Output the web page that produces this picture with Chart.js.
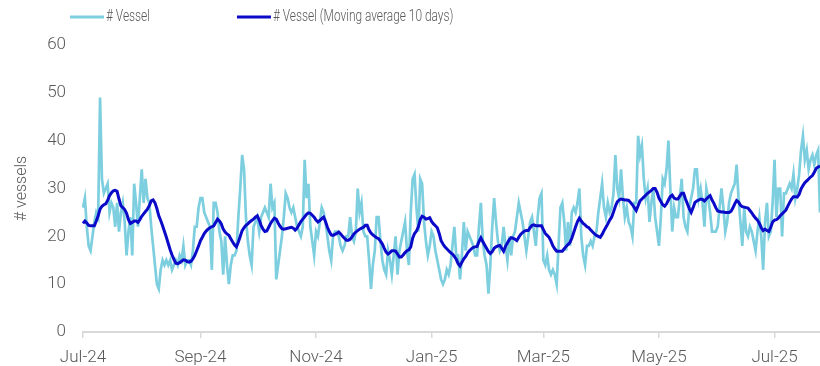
<!DOCTYPE html>
<html>
<head>
<meta charset="utf-8">
<script src="https://cdn.jsdelivr.net/npm/chart.js@4.4.1/dist/chart.umd.min.js"></script>
<style>
  html, body { margin: 0; padding: 0; background: #fff; }
</style>
</head>
<body>
<canvas id="chart" width="820" height="366"></canvas>
<script>

// daily series, starting 1 Jul 2024
var startDate = '2024-07-01';

var vessels = [
    26,28,22,18,17,20,23,25,24,49,32,29,30,31,25,27,26,22,27,21,
    25,27,23,16,21,24,16,31,27,22,28,34,27,32,28,27,22,18,14,10,
    9,13,15,14,15,14,15,13,14,15,14,16,15,18,14,15,15,14,17,22,
    22,26,28,28,25,24,23,22,13,27,27,25,21,19,12,20,14,10,14,16,
    16,17,24,30,37,34,24,19,16,14,22,23,24,21,24,25,26,25,24,31,
    26,27,11,14,17,20,24,29,28,26,25,26,24,22,21,20,22,36,28,31,
    22,19,16,21,20,23,26,25,23,20,17,15,20,21,21,20,18,17,18,20,
    20,24,20,19,21,30,25,27,21,20,20,15,9,14,17,24,24,19,15,13,
    12,17,15,12,16,20,12,17,19,21,23,17,14,25,32,33,26,21,32,31,
    23,19,16,18,21,20,17,15,13,11,10,11,13,12,14,18,22,16,16,11,
    16,23,17,21,20,19,18,16,16,22,27,19,16,14,8,14,22,28,23,19,
    17,18,22,18,15,20,16,20,21,24,27,25,23,20,17,20,23,24,21,18,
    24,28,29,15,14,16,13,12,13,12,10,18,26,27,23,17,23,18,25,26,
    25,27,30,20,16,14,18,18,19,18,20,21,25,28,31,26,24,27,25,26,
    29,37,30,28,34,28,24,26,23,22,20,27,27,41,37,39,32,28,30,23,
    27,30,24,21,18,24,32,31,34,40,30,21,26,24,24,28,32,24,22,21,
    26,28,30,34,34,28,30,27,22,30,28,25,21,21,21,22,26,30,26,21,
    23,27,29,30,31,35,28,23,18,26,21,20,22,21,19,17,21,24,20,13,
    23,27,20,21,27,36,24,30,30,20,29,29,30,31,30,33,28,30,33,38,
    41,36,38,34,36,37,35,37,38,25
];

var vesselsMA = [
    22.7,23.2,22.8,22.3,22.2,22.2,22.2,23.2,24.3,25.7,26.3,26.6,26.8,27.5,28.5,29.1,29.5,29.6,29.4,27.8,
    26.4,26,25.6,24.8,23.5,22.7,22.9,23.2,23.2,22.9,23.5,24.2,24.7,25.2,25.7,26.4,27.4,27.6,27,25.8,
    24.3,23.3,22.2,21,19.8,18.5,17.2,16.1,15.2,14.4,14.3,14.5,14.8,15.1,15,14.7,14.6,14.8,15.3,16,
    17,18,19.1,19.8,20.6,21.1,21.5,21.8,22,22.2,22.9,23.6,23.2,22.6,21.5,20.9,20.5,20.2,19.5,18.8,
    18.2,17.8,18.8,20,21.2,21.8,22.3,22.6,23,23.3,23.6,24,24.3,23.4,22.3,21.5,21,21.1,21.9,22.7,
    23.3,23.8,23.6,22.8,22.1,21.6,21.5,21.6,21.7,21.8,21.9,21.7,21.3,21.7,22.4,23.1,23.6,24.1,24.6,24.9,
    24.8,24.4,24,23.4,23,23.3,23.7,24,23.1,21.9,21,20.3,20.2,20.4,20.6,20.9,20.5,20,19.6,19.2,
    19.2,19.4,19.9,20.5,20.9,21.2,21.5,21.7,21.9,22.3,22.3,21.3,20.7,20.3,20,19.7,19.5,19,18.4,17.5,
    16.7,16.3,16.6,17,17,16.9,16.3,15.7,15.7,16.1,16.6,17,17.2,17.8,19.6,20.6,21.1,22,23.5,24.2,
    24,23.6,23.7,23.9,23.1,22.6,22.2,21.8,20.6,19.1,18.4,17.8,17.4,17,16.6,16.3,15.8,15.2,14.3,13.8,
    14.6,15.3,15.8,16.5,17,17.4,17.7,17.8,17.9,18.9,19.7,18.9,18.2,17.5,16.8,16.4,16.8,17.5,17.8,18,
    18.1,17.5,16.9,17.9,18.6,19.3,19.7,19.6,19.4,19.1,19.8,20.4,20.8,21.1,21.2,21.2,21.8,22.3,22.4,22.2,
    22.2,22.2,22.2,21.4,20.6,20.2,19.8,19,18,17.4,16.9,16.9,16.9,16.9,17.4,17.9,18.3,18.7,19.6,20.8,
    22,23.1,23.8,23.2,22.7,22.4,22,21.8,21.3,20.9,20.5,20.2,20,19.8,20.4,21.2,21.9,22.6,23.4,24,
    25.1,26.3,27.2,27.6,27.8,27.7,27.6,27.6,27.5,27.1,26.6,26,25.4,26.4,27.4,27.8,28.2,28.6,29,29.3,
    29.6,30,30,29.2,28,27.3,26.6,26.3,26.8,27.6,28.3,28.6,28,27.8,27.8,28.4,29,29,27.8,26.8,
    25.8,25,26,27.1,27.4,27.6,27.8,27.7,27.4,27.8,28.2,28.5,27.6,26.9,26,25.3,25.2,25.1,25.1,25,
    25,25,25.2,25.9,26.8,27.5,27.2,26.5,26.2,26.1,26,25.9,25.4,24.9,24.3,23.8,23.4,22.7,21.8,21.2,
    21.5,21.2,21,21.9,23,23.4,23.5,23.8,24.3,24.7,25.1,25.5,26.3,27.1,27.8,28.3,28.3,28.2,28.8,29.9,
    30.6,31.2,31.6,32,32.4,32.7,33.4,34.2,34.5,34.7
];

var tickDates = ['2024-07-01', '2024-09-01', '2024-11-01', '2025-01-01', '2025-03-01', '2025-05-01', '2025-07-01'];
var tickLabels = ['Jul-24', 'Sep-24', 'Nov-24', 'Jan-25', 'Mar-25', 'May-25', 'Jul-25'];

var seriesNames = ['# Vessel', '# Vessel (Moving average 10 days)'];

// one category per day
var days = [];
var d0 = new Date(startDate + 'T00:00:00Z');
for (var i = 0; i < vessels.length; i++) {
    var d = new Date(d0.getTime() + i * 86400000);
    days.push(d.toISOString().slice(0, 10));
}

var fontName = "Roboto, sans-serif";
var textColor = '#595959';

Chart.defaults.font.family = fontName;
Chart.defaults.font.weight = 300;
Chart.defaults.color = textColor;

// legend drawn by hand: it sits left of centre in the original and uses a narrow face
var topLegend = {
    id: 'topLegend',
    afterDraw: function (chart) {
        var ctx = chart.ctx;
        var squeeze = 0.7;
        var x = 70, y = 17;
        ctx.save();
        ctx.font = '300 17px ' + fontName;
        ctx.textBaseline = 'middle';
        ctx.textAlign = 'left';
        chart.data.datasets.forEach(function (ds) {
            ctx.strokeStyle = ds.borderColor;
            ctx.lineWidth = 3;
            ctx.beginPath();
            ctx.moveTo(x, y);
            ctx.lineTo(x + 34, y);
            ctx.stroke();
            ctx.fillStyle = textColor;
            ctx.save();
            ctx.translate(x + 36, y);
            ctx.scale(squeeze, 1);
            ctx.fillText(ds.label, 0, 0);
            ctx.restore();
            x += 36 + ctx.measureText(ds.label).width * squeeze + 87;
        });
        ctx.restore();
    }
};

var chart = new Chart(document.getElementById('chart'), {
    type: 'line',
    data: {
        labels: days,
        datasets: [
            {
                label: seriesNames[0],
                data: vessels,
                borderColor: '#7dcfdf',
                backgroundColor: '#7dcfdf',
                borderWidth: 2.7,
                pointRadius: 0,
                tension: 0,
                fill: false,
                order: 2
            },
            {
                label: seriesNames[1],
                data: vesselsMA,
                borderColor: '#0a0ac8',
                backgroundColor: '#0a0ac8',
                borderWidth: 3,
                pointRadius: 0,
                tension: 0,
                fill: false,
                order: 1
            }
        ]
    },
    options: {
        responsive: false,
        animation: false,
        layout: {
            padding: { top: 45, left: 8, right: 0, bottom: 0 }
        },
        plugins: {
            legend: { display: false },
            tooltip: { enabled: false }
        },
        scales: {
            x: {
                type: 'category',
                afterBuildTicks: function (scale) {
                    scale.ticks = scale.ticks.filter(function (t) {
                        return tickDates.indexOf(days[t.value]) >= 0;
                    });
                },
                afterFit: function (scale) {
                    scale.height = 34;
                },
                grid: {
                    display: true,
                    drawOnChartArea: false,
                    drawTicks: true,
                    tickLength: 6,
                    color: '#d9d9d9',
                    lineWidth: 1.5
                },
                border: { display: true, color: '#d9d9d9', width: 2 },
                ticks: {
                    autoSkip: false,
                    maxRotation: 0,
                    minRotation: 0,
                    padding: 10,
                    font: { size: 17 },
                    callback: function (val) {
                        var k = tickDates.indexOf(days[val]);
                        return k >= 0 ? tickLabels[k] : null;
                    }
                }
            },
            y: {
                min: 0,
                max: 60,
                afterFit: function (scale) {
                    scale.width = 75;
                },
                grid: { display: false, drawTicks: false },
                border: { display: false },
                ticks: {
                    stepSize: 10,
                    padding: 17,
                    font: { size: 17 }
                },
                title: {
                    display: true,
                    text: '# vessels',
                    font: { size: 16 },
                    padding: { top: 4, bottom: 0 }
                }
            }
        }
    },
    plugins: [topLegend]
});
</script>
</body>
</html>
